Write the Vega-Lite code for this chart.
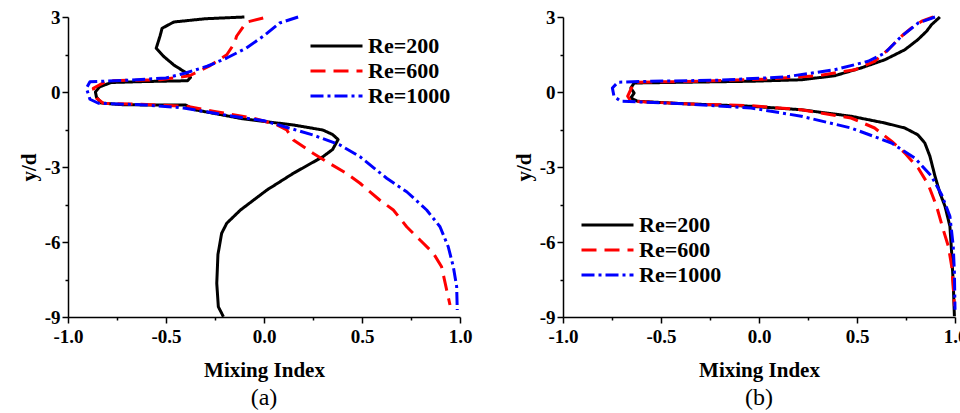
{
"$schema": "https://vega.github.io/schema/vega-lite/v6.json",
"background": "white",
"padding": {"left": 18, "top": 8, "right": 5, "bottom": 5},
"spacing": 41,
"datasets": {
"a": [
{"Re":"Re=200","i":1,"x":-0.10,"y":3.0},{"Re":"Re=200","i":2,"x":-0.30,"y":2.93},{"Re":"Re=200","i":3,"x":-0.46,"y":2.80},{"Re":"Re=200","i":4,"x":-0.52,"y":2.55},{"Re":"Re=200","i":5,"x":-0.53,"y":2.25},{"Re":"Re=200","i":6,"x":-0.55,"y":1.75},{"Re":"Re=200","i":7,"x":-0.51,"y":1.41},{"Re":"Re=200","i":8,"x":-0.46,"y":1.08},{"Re":"Re=200","i":9,"x":-0.40,"y":0.78},{"Re":"Re=200","i":10,"x":-0.375,"y":0.58},{"Re":"Re=200","i":11,"x":-0.39,"y":0.45},{"Re":"Re=200","i":12,"x":-0.60,"y":0.42},{"Re":"Re=200","i":13,"x":-0.78,"y":0.38},{"Re":"Re=200","i":14,"x":-0.84,"y":0.20},{"Re":"Re=200","i":15,"x":-0.86,"y":0.0},{"Re":"Re=200","i":16,"x":-0.855,"y":-0.2},{"Re":"Re=200","i":17,"x":-0.83,"y":-0.44},{"Re":"Re=200","i":18,"x":-0.72,"y":-0.51},{"Re":"Re=200","i":19,"x":-0.55,"y":-0.52},{"Re":"Re=200","i":20,"x":-0.40,"y":-0.52},{"Re":"Re=200","i":21,"x":-0.36,"y":-0.70},{"Re":"Re=200","i":22,"x":-0.11,"y":-1.07},{"Re":"Re=200","i":23,"x":0.15,"y":-1.32},{"Re":"Re=200","i":24,"x":0.30,"y":-1.52},{"Re":"Re=200","i":25,"x":0.35,"y":-1.70},{"Re":"Re=200","i":26,"x":0.378,"y":-1.90},{"Re":"Re=200","i":27,"x":0.35,"y":-2.30},{"Re":"Re=200","i":28,"x":0.30,"y":-2.59},{"Re":"Re=200","i":29,"x":0.15,"y":-3.25},{"Re":"Re=200","i":30,"x":0.015,"y":-3.92},{"Re":"Re=200","i":31,"x":-0.12,"y":-4.72},{"Re":"Re=200","i":32,"x":-0.19,"y":-5.25},{"Re":"Re=200","i":33,"x":-0.216,"y":-5.65},{"Re":"Re=200","i":34,"x":-0.235,"y":-6.5},{"Re":"Re=200","i":35,"x":-0.241,"y":-7.65},{"Re":"Re=200","i":36,"x":-0.233,"y":-8.59},{"Re":"Re=200","i":37,"x":-0.207,"y":-8.99},
{"Re":"Re=600","i":1,"x":-0.004,"y":2.96},{"Re":"Re=600","i":2,"x":-0.09,"y":2.79},{"Re":"Re=600","i":3,"x":-0.14,"y":2.23},{"Re":"Re=600","i":4,"x":-0.15,"y":1.96},{"Re":"Re=600","i":5,"x":-0.19,"y":1.49},{"Re":"Re=600","i":6,"x":-0.28,"y":1.03},{"Re":"Re=600","i":7,"x":-0.38,"y":0.65},{"Re":"Re=600","i":8,"x":-0.53,"y":0.49},{"Re":"Re=600","i":9,"x":-0.80,"y":0.45},{"Re":"Re=600","i":10,"x":-0.871,"y":0.15},{"Re":"Re=600","i":11,"x":-0.854,"y":-0.25},{"Re":"Re=600","i":12,"x":-0.82,"y":-0.45},{"Re":"Re=600","i":13,"x":-0.60,"y":-0.50},{"Re":"Re=600","i":14,"x":-0.396,"y":-0.57},{"Re":"Re=600","i":15,"x":-0.26,"y":-0.77},{"Re":"Re=600","i":16,"x":-0.055,"y":-1.04},{"Re":"Re=600","i":17,"x":0.064,"y":-1.31},{"Re":"Re=600","i":18,"x":0.116,"y":-1.52},{"Re":"Re=600","i":19,"x":0.15,"y":-1.92},{"Re":"Re=600","i":20,"x":0.25,"y":-2.45},{"Re":"Re=600","i":21,"x":0.32,"y":-2.79},{"Re":"Re=600","i":22,"x":0.42,"y":-3.25},{"Re":"Re=600","i":23,"x":0.49,"y":-3.65},{"Re":"Re=600","i":24,"x":0.59,"y":-4.32},{"Re":"Re=600","i":25,"x":0.66,"y":-4.72},{"Re":"Re=600","i":26,"x":0.728,"y":-5.39},{"Re":"Re=600","i":27,"x":0.796,"y":-5.92},{"Re":"Re=600","i":28,"x":0.864,"y":-6.45},{"Re":"Re=600","i":29,"x":0.906,"y":-6.99},{"Re":"Re=600","i":30,"x":0.932,"y":-7.92},{"Re":"Re=600","i":31,"x":0.949,"y":-8.52},
{"Re":"Re=1000","i":1,"x":0.174,"y":3.0},{"Re":"Re=1000","i":2,"x":0.08,"y":2.76},{"Re":"Re=1000","i":3,"x":-0.004,"y":2.23},{"Re":"Re=1000","i":4,"x":-0.09,"y":1.76},{"Re":"Re=1000","i":5,"x":-0.19,"y":1.36},{"Re":"Re=1000","i":6,"x":-0.29,"y":1.03},{"Re":"Re=1000","i":7,"x":-0.40,"y":0.76},{"Re":"Re=1000","i":8,"x":-0.50,"y":0.56},{"Re":"Re=1000","i":9,"x":-0.70,"y":0.47},{"Re":"Re=1000","i":10,"x":-0.888,"y":0.41},{"Re":"Re=1000","i":11,"x":-0.906,"y":0.15},{"Re":"Re=1000","i":12,"x":-0.888,"y":-0.29},{"Re":"Re=1000","i":13,"x":-0.845,"y":-0.45},{"Re":"Re=1000","i":14,"x":-0.60,"y":-0.52},{"Re":"Re=1000","i":15,"x":-0.41,"y":-0.64},{"Re":"Re=1000","i":16,"x":-0.16,"y":-0.97},{"Re":"Re=1000","i":17,"x":0.0,"y":-1.15},{"Re":"Re=1000","i":18,"x":0.25,"y":-1.72},{"Re":"Re=1000","i":19,"x":0.388,"y":-2.12},{"Re":"Re=1000","i":20,"x":0.49,"y":-2.59},{"Re":"Re=1000","i":21,"x":0.626,"y":-3.45},{"Re":"Re=1000","i":22,"x":0.728,"y":-3.99},{"Re":"Re=1000","i":23,"x":0.83,"y":-4.72},{"Re":"Re=1000","i":24,"x":0.898,"y":-5.39},{"Re":"Re=1000","i":25,"x":0.94,"y":-6.19},{"Re":"Re=1000","i":26,"x":0.966,"y":-6.99},{"Re":"Re=1000","i":27,"x":0.983,"y":-7.79},{"Re":"Re=1000","i":28,"x":0.986,"y":-8.72}
],
"b": [
{"Re":"Re=200","i":1,"x":0.923,"y":3.0},{"Re":"Re=200","i":2,"x":0.88,"y":2.69},{"Re":"Re=200","i":3,"x":0.855,"y":2.43},{"Re":"Re=200","i":4,"x":0.81,"y":2.09},{"Re":"Re=200","i":5,"x":0.744,"y":1.69},{"Re":"Re=200","i":6,"x":0.642,"y":1.29},{"Re":"Re=200","i":7,"x":0.52,"y":0.96},{"Re":"Re=200","i":8,"x":0.386,"y":0.65},{"Re":"Re=200","i":9,"x":0.216,"y":0.49},{"Re":"Re=200","i":10,"x":-0.04,"y":0.43},{"Re":"Re=200","i":11,"x":-0.38,"y":0.39},{"Re":"Re=200","i":12,"x":-0.637,"y":0.36},{"Re":"Re=200","i":13,"x":-0.654,"y":0.16},{"Re":"Re=200","i":14,"x":-0.637,"y":-0.04},{"Re":"Re=200","i":15,"x":-0.654,"y":-0.24},{"Re":"Re=200","i":16,"x":-0.62,"y":-0.37},{"Re":"Re=200","i":17,"x":-0.38,"y":-0.47},{"Re":"Re=200","i":18,"x":-0.04,"y":-0.57},{"Re":"Re=200","i":19,"x":0.216,"y":-0.71},{"Re":"Re=200","i":20,"x":0.47,"y":-0.97},{"Re":"Re=200","i":21,"x":0.642,"y":-1.24},{"Re":"Re=200","i":22,"x":0.744,"y":-1.44},{"Re":"Re=200","i":23,"x":0.81,"y":-1.71},{"Re":"Re=200","i":24,"x":0.846,"y":-2.04},{"Re":"Re=200","i":25,"x":0.872,"y":-2.57},{"Re":"Re=200","i":26,"x":0.898,"y":-3.37},{"Re":"Re=200","i":27,"x":0.923,"y":-4.04},{"Re":"Re=200","i":28,"x":0.949,"y":-4.57},{"Re":"Re=200","i":29,"x":0.974,"y":-5.37},{"Re":"Re=200","i":30,"x":0.983,"y":-6.44},{"Re":"Re=200","i":31,"x":0.991,"y":-7.64},{"Re":"Re=200","i":32,"x":0.997,"y":-8.97},
{"Re":"Re=600","i":1,"x":0.889,"y":3.0},{"Re":"Re=600","i":2,"x":0.83,"y":2.83},{"Re":"Re=600","i":3,"x":0.778,"y":2.56},{"Re":"Re=600","i":4,"x":0.727,"y":2.23},{"Re":"Re=600","i":5,"x":0.659,"y":1.69},{"Re":"Re=600","i":6,"x":0.59,"y":1.23},{"Re":"Re=600","i":7,"x":0.489,"y":0.89},{"Re":"Re=600","i":8,"x":0.30,"y":0.65},{"Re":"Re=600","i":9,"x":0.045,"y":0.52},{"Re":"Re=600","i":10,"x":-0.296,"y":0.43},{"Re":"Re=600","i":11,"x":-0.637,"y":0.39},{"Re":"Re=600","i":12,"x":-0.67,"y":-0.17},{"Re":"Re=600","i":13,"x":-0.654,"y":-0.37},{"Re":"Re=600","i":14,"x":-0.38,"y":-0.47},{"Re":"Re=600","i":15,"x":-0.04,"y":-0.55},{"Re":"Re=600","i":16,"x":0.216,"y":-0.71},{"Re":"Re=600","i":17,"x":0.47,"y":-1.04},{"Re":"Re=600","i":18,"x":0.59,"y":-1.44},{"Re":"Re=600","i":19,"x":0.676,"y":-1.97},{"Re":"Re=600","i":20,"x":0.744,"y":-2.44},{"Re":"Re=600","i":21,"x":0.812,"y":-3.04},{"Re":"Re=600","i":22,"x":0.864,"y":-3.71},{"Re":"Re=600","i":23,"x":0.906,"y":-4.57},{"Re":"Re=600","i":24,"x":0.94,"y":-5.51},{"Re":"Re=600","i":25,"x":0.966,"y":-6.17},{"Re":"Re=600","i":26,"x":0.983,"y":-6.97},{"Re":"Re=600","i":27,"x":0.991,"y":-7.77},{"Re":"Re=600","i":28,"x":0.997,"y":-8.57},
{"Re":"Re=1000","i":1,"x":0.898,"y":3.0},{"Re":"Re=1000","i":2,"x":0.812,"y":2.76},{"Re":"Re=1000","i":3,"x":0.727,"y":2.23},{"Re":"Re=1000","i":4,"x":0.642,"y":1.56},{"Re":"Re=1000","i":5,"x":0.557,"y":1.23},{"Re":"Re=1000","i":6,"x":0.386,"y":0.89},{"Re":"Re=1000","i":7,"x":0.13,"y":0.6},{"Re":"Re=1000","i":8,"x":-0.21,"y":0.47},{"Re":"Re=1000","i":9,"x":-0.55,"y":0.43},{"Re":"Re=1000","i":10,"x":-0.72,"y":0.39},{"Re":"Re=1000","i":11,"x":-0.748,"y":0.16},{"Re":"Re=1000","i":12,"x":-0.74,"y":-0.17},{"Re":"Re=1000","i":13,"x":-0.705,"y":-0.37},{"Re":"Re=1000","i":14,"x":-0.38,"y":-0.47},{"Re":"Re=1000","i":15,"x":-0.04,"y":-0.64},{"Re":"Re=1000","i":16,"x":0.216,"y":-0.97},{"Re":"Re=1000","i":17,"x":0.47,"y":-1.44},{"Re":"Re=1000","i":18,"x":0.676,"y":-2.04},{"Re":"Re=1000","i":19,"x":0.795,"y":-2.64},{"Re":"Re=1000","i":20,"x":0.88,"y":-3.37},{"Re":"Re=1000","i":21,"x":0.932,"y":-4.11},{"Re":"Re=1000","i":22,"x":0.974,"y":-4.97},{"Re":"Re=1000","i":23,"x":0.991,"y":-6.17},{"Re":"Re=1000","i":24,"x":0.997,"y":-7.24},{"Re":"Re=1000","i":25,"x":1.0,"y":-8.71}
]
},
"resolve": {"scale": {"color": "independent", "strokeDash": "independent"}, "legend": {"color": "independent", "strokeDash": "independent"}},
"hconcat": [
{
"width": 392, "height": 300,
"data": {"name": "a"},
"title": {"text": "(a)", "orient": "bottom", "font": "Liberation Serif", "fontSize": 24, "fontWeight": "normal", "color": "black", "offset": 6},
"mark": {"type": "line", "strokeWidth": 3, "strokeCap": "butt", "strokeJoin": "round"},
"encoding": {
"x": {"field": "x", "type": "quantitative", "scale": {"domain": [-1, 1], "nice": false},
 "axis": {"title": "Mixing Index", "values": [-1,-0.75,-0.5,-0.25,0,0.25,0.5,0.75,1], "format": ".1f",
  "labelExpr": "abs(datum.value*2 - round(datum.value*2)) < 0.001 ? replace(datum.label, '\u2212', '-') : ''",
  "tickSize": {"condition": {"test": "abs(datum.value*2 - round(datum.value*2)) < 0.001", "value": 6}, "value": 3},
  "labelPadding": 4, "titlePadding": 13, "labelFlush": false, "labelOverlap": false}},
"y": {"field": "y", "type": "quantitative", "scale": {"domain": [-9, 3], "nice": false},
 "axis": {"title": "y/d", "values": [3,1.5,0,-1.5,-3,-4.5,-6,-7.5,-9], "format": "d",
  "labelExpr": "abs(datum.value/3 - round(datum.value/3)) < 0.001 ? replace(format(datum.value,'d'), '\u2212', '-') : ''",
  "tickSize": {"condition": {"test": "abs(datum.value/3 - round(datum.value/3)) < 0.001", "value": 6}, "value": 3},
  "labelPadding": 2, "titlePadding": 5, "labelFlush": false, "labelOverlap": false}},
"color": {"field": "Re", "type": "nominal", "scale": {"domain": ["Re=200","Re=600","Re=1000"], "range": ["#000000","#ff0000","#0000ff"]},
 "legend": {"title": null, "orient": "none", "legendX": 238, "legendY": 18, "symbolType": "M-1,0H7", "symbolSize": 169, "symbolStrokeWidth": 3, "labelFont": "Liberation Serif", "labelFontWeight": "bold", "labelFontSize": 22, "labelColor": "black", "labelOffset": 40, "rowPadding": 3}},
"strokeDash": {"field": "Re", "type": "nominal", "scale": {"domain": ["Re=200","Re=600","Re=1000"], "range": [[1,0],[15,8],[13,4,3,4]]},
 "legend": {"title": null, "orient": "none", "legendX": 238, "legendY": 18, "symbolType": "M-1,0H7", "symbolSize": 169, "symbolStrokeWidth": 3, "labelFont": "Liberation Serif", "labelFontWeight": "bold", "labelFontSize": 22, "labelColor": "black", "labelOffset": 40, "rowPadding": 3}},
"order": {"field": "i", "type": "quantitative"}
}
},
{
"width": 392, "height": 300,
"data": {"name": "b"},
"title": {"text": "(b)", "orient": "bottom", "font": "Liberation Serif", "fontSize": 24, "fontWeight": "normal", "color": "black", "offset": 6},
"mark": {"type": "line", "strokeWidth": 3, "strokeCap": "butt", "strokeJoin": "round"},
"encoding": {
"x": {"field": "x", "type": "quantitative", "scale": {"domain": [-1, 1], "nice": false},
 "axis": {"title": "Mixing Index", "values": [-1,-0.75,-0.5,-0.25,0,0.25,0.5,0.75,1], "format": ".1f",
  "labelExpr": "abs(datum.value*2 - round(datum.value*2)) < 0.001 ? replace(datum.label, '\u2212', '-') : ''",
  "tickSize": {"condition": {"test": "abs(datum.value*2 - round(datum.value*2)) < 0.001", "value": 6}, "value": 3},
  "labelPadding": 4, "titlePadding": 13, "labelFlush": false, "labelOverlap": false}},
"y": {"field": "y", "type": "quantitative", "scale": {"domain": [-9, 3], "nice": false},
 "axis": {"title": "y/d", "values": [3,1.5,0,-1.5,-3,-4.5,-6,-7.5,-9], "format": "d",
  "labelExpr": "abs(datum.value/3 - round(datum.value/3)) < 0.001 ? replace(format(datum.value,'d'), '\u2212', '-') : ''",
  "tickSize": {"condition": {"test": "abs(datum.value/3 - round(datum.value/3)) < 0.001", "value": 6}, "value": 3},
  "labelPadding": 2, "titlePadding": 5, "labelFlush": false, "labelOverlap": false}},
"color": {"field": "Re", "type": "nominal", "scale": {"domain": ["Re=200","Re=600","Re=1000"], "range": ["#000000","#ff0000","#0000ff"]},
 "legend": {"title": null, "orient": "none", "legendX": 14, "legendY": 197, "symbolType": "M-1,0H7", "symbolSize": 169, "symbolStrokeWidth": 3, "labelFont": "Liberation Serif", "labelFontWeight": "bold", "labelFontSize": 22, "labelColor": "black", "labelOffset": 40, "rowPadding": 3}},
"strokeDash": {"field": "Re", "type": "nominal", "scale": {"domain": ["Re=200","Re=600","Re=1000"], "range": [[1,0],[15,8],[13,4,3,4]]},
 "legend": {"title": null, "orient": "none", "legendX": 14, "legendY": 197, "symbolType": "M-1,0H7", "symbolSize": 169, "symbolStrokeWidth": 3, "labelFont": "Liberation Serif", "labelFontWeight": "bold", "labelFontSize": 22, "labelColor": "black", "labelOffset": 40, "rowPadding": 3}},
"order": {"field": "i", "type": "quantitative"}
}
}
],
"config": {
"view": {"stroke": null},
"axis": {"grid": false, "domainColor": "black", "domainWidth": 1.5, "tickColor": "black", "tickWidth": 1.5,
 "labelFont": "Liberation Serif", "labelFontWeight": "bold", "labelFontSize": 19, "labelColor": "black",
 "titleFont": "Liberation Serif", "titleFontWeight": "bold", "titleFontSize": 21, "titleColor": "black"}
}
}
